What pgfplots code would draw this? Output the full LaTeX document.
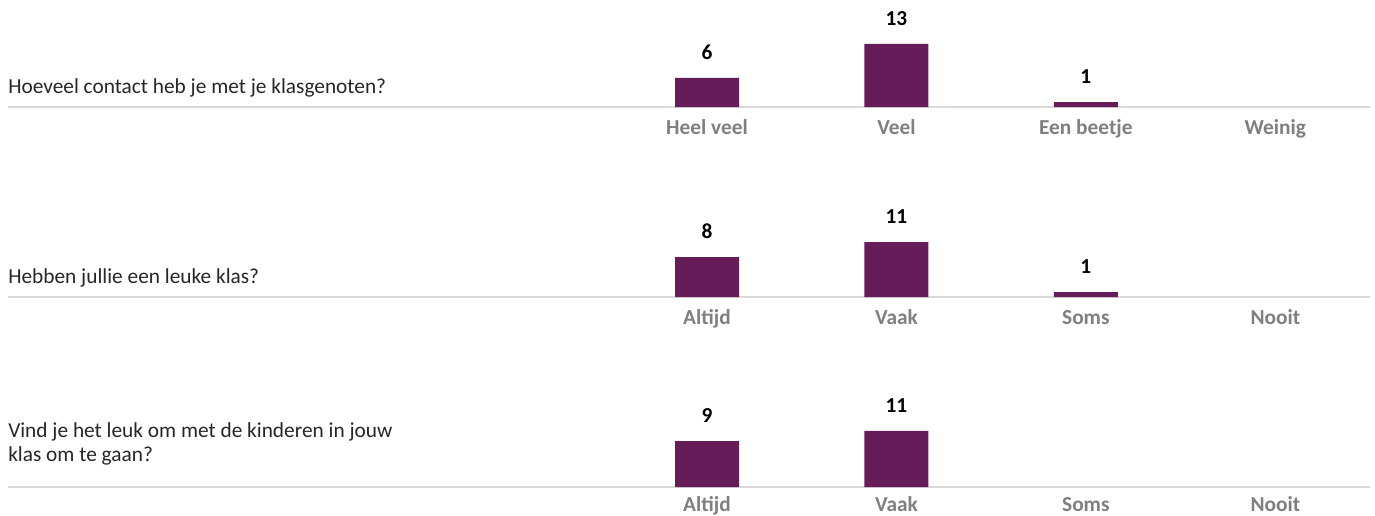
\documentclass[border=0pt]{standalone}
\usepackage{pgfplots}
\pgfplotsset{compat=1.18}
\usepackage{fontspec}
\setmainfont{Carlito}
\definecolor{barc}{HTML}{651C59}
\definecolor{lbl}{HTML}{7F7F7F}
\definecolor{basec}{HTML}{D9D9D9}
\definecolor{qtext}{HTML}{262626}
\newcommand{\qfont}{\fontsize{16}{20}\selectfont}
\pgfplotsset{row/.style={
  scale only axis, width=1021.5pt, height=60pt,
  xmin=-3.69, xmax=3.50, ymin=0,
  axis x line*=bottom, axis y line=none,
  x axis line style={draw=basec, line width=2.2pt},
  xtick={0,1,2,3}, major tick length=0pt,
  xticklabel style={font=\qfont\bfseries, text=lbl, anchor=base, inner sep=0pt, yshift=-20.5pt},
  ybar, bar width=48pt,
  nodes near coords,
  /pgf/number format/assume math mode=true,
  nodes near coords style={font=\qfont\bfseries, text=black, anchor=base, yshift=14pt},
  clip=false, anchor=south west,
}}
\begin{document}
\begin{tikzpicture}
\path[use as bounding box] (0pt,0pt) rectangle ({1375*0.75pt},{-515*0.75pt});
\begin{axis}[row, at={({8*0.75pt},{-107*0.75pt})}, ymax=16.5,
  xticklabels={Heel veel,Veel,Een beetje,Weinig}]
\addplot[fill=barc, draw=none] coordinates {(0,6) (1,13) (2,1)};
\end{axis}
\begin{axis}[row, at={({8*0.75pt},{-297*0.75pt})}, ymax=16.0,
  xticklabels={Altijd,Vaak,Soms,Nooit}]
\addplot[fill=barc, draw=none] coordinates {(0,8) (1,11) (2,1)};
\end{axis}
\begin{axis}[row, at={({8*0.75pt},{-487*0.75pt})}, ymax=15.7,
  xticklabels={Altijd,Vaak,Soms,Nooit},
  xticklabel style={yshift=2.5pt}]
\addplot[fill=barc, draw=none] coordinates {(0,9) (1,11)};
\end{axis}
\node[anchor=base west, inner sep=0pt, font=\qfont, text=qtext] at ({8*0.75pt},{-93*0.75pt}) {Hoeveel contact heb je met je klasgenoten?};
\node[anchor=base west, inner sep=0pt, font=\qfont, text=qtext] at ({8*0.75pt},{-283*0.75pt}) {Hebben jullie een leuke klas?};
\node[anchor=base west, inner sep=0pt, font=\qfont, text=qtext] at ({8*0.75pt},{-437*0.75pt}) {Vind je het leuk om met de kinderen in jouw};
\node[anchor=base west, inner sep=0pt, font=\qfont, text=qtext] at ({8*0.75pt},{-461*0.75pt}) {klas om te gaan?};
\end{tikzpicture}
\end{document}
